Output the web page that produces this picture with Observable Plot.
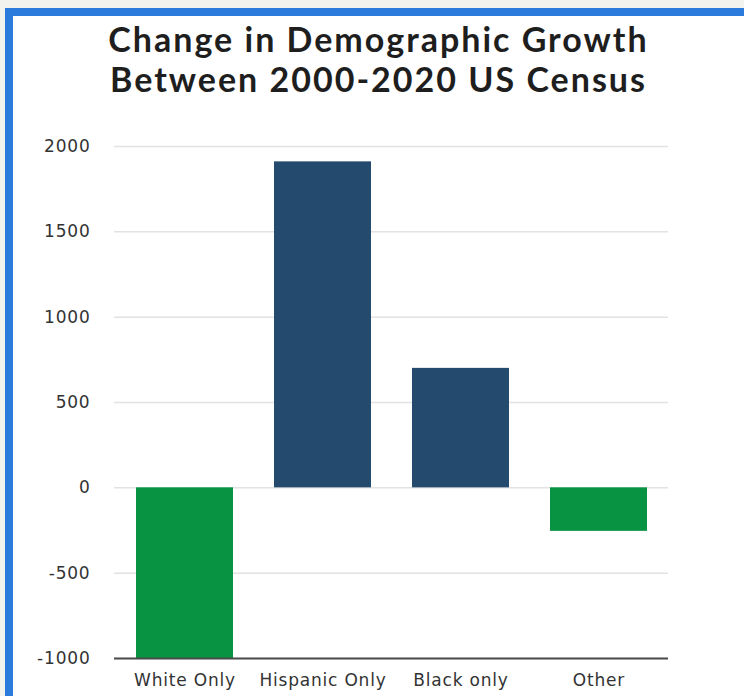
<!DOCTYPE html>
<html>
<head>
<meta charset="utf-8">
<script src="https://cdn.jsdelivr.net/npm/d3@7"></script>
<script src="https://cdn.jsdelivr.net/npm/@observablehq/plot@0.6"></script>
<style>
  html, body { margin: 0; padding: 0; }
  body { width: 744px; height: 696px; background: #f2f2ee; overflow: hidden; position: relative; }
  #frame { position: absolute; left: 5px; top: 8px; right: 0; bottom: 0;
    border-left: 8px solid #2a7bdc; border-top: 8px solid #2a7bdc; background: #ffffff; }
  #title { position: absolute; left: 0; right: 0; top: 3px; text-align: center;
    font-family: Lato, "Open Sans", sans-serif; font-weight: 700; font-size: 34px; line-height: 40px;
    color: #1e1e1e; letter-spacing: 2px; }
  #chart { position: absolute; left: 0; top: 104px; }
  #chart svg text { letter-spacing: 0.8px; }
</style>
</head>
<body>
<div id="frame">
  <div id="title">Change in Demographic Growth<br>Between 2000-2020 US Census</div>
  <div id="chart"></div>
</div>
<script>
const categories = ["White Only", "Hispanic Only", "Black only", "Other"];
const changes = [-1000, 1910, 700, -255];
const yTicks = [-1000, -500, 0, 500, 1000, 1500, 2000];

const data = categories.map((c, i) => ({category: c, change: changes[i]}));
const navy = "#244b6d";
const green = "#079342";

const chart = Plot.plot({
  width: 731,
  height: 576,
  marginLeft: 101,
  marginRight: 76,
  marginTop: 26,
  marginBottom: 38,
  style: {fontFamily: "'DejaVu Sans', sans-serif", fontSize: "17px", color: "#333333", background: "transparent"},
  x: {domain: categories, paddingInner: 0.3, paddingOuter: 0.15, label: null, tickSize: 0, tickPadding: 15},
  y: {domain: [-1000, 2000], ticks: yTicks, label: null, tickSize: 0, tickPadding: 24, tickFormat: d => String(d)},
  marks: [
    Plot.ruleY(yTicks, {stroke: "#e2e2e2", strokeWidth: 1.5}),
    Plot.barY(data.filter(d => d.change >= 0), {x: "category", y: "change", fill: navy}),
    Plot.barY(data.filter(d => d.change < 0), {x: "category", y: "change", fill: green}),
    Plot.ruleY([-1000], {stroke: "#4a4a4a", strokeWidth: 2})
  ]
});
document.getElementById("chart").appendChild(chart);
</script>
</body>
</html>
